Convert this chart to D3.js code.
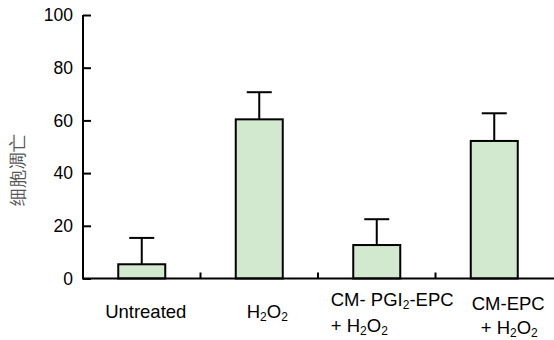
<!DOCTYPE html>
<html lang="zh">
<head>
<meta charset="utf-8">
<title>细胞凋亡</title>
<script src="https://d3js.org/d3.v7.min.js"></script>
<style>
  body { margin: 0; background: #fff; }
  text { font-family: "Liberation Sans", Arial, sans-serif; }
</style>
</head>
<body>
<div id="chart"></div>
<script>
// data
var categories = ["Untreated", "H2O2", "CM-PGI2-EPC + H2O2", "CM-EPC + H2O2"];
var values = [5.4, 60.4, 12.7, 52.2];
var errors = [10.0, 10.3, 9.8, 10.5];
var yTicks = [0, 20, 40, 60, 80, 100];

var width = 554, height = 340;
var m = {top: 15, left: 83, right: 1, bottom: 61.5};

var svg = d3.select("#chart").append("svg")
    .attr("width", width)
    .attr("height", height);

var x = d3.scaleBand()
    .domain(categories)
    .range([m.left, width - m.right])
    .paddingInner(0.6)
    .paddingOuter(0.3);

var y = d3.scaleLinear()
    .domain([0, 100])
    .range([height - m.bottom, m.top]);

var data = categories.map(function(c, i) {
  return {name: c, value: values[i], err: errors[i]};
});

function cx(name) { return x(name) + x.bandwidth() / 2; }

// error bars (drawn first so the bar covers the stem base)
var eb = svg.append("g")
    .attr("stroke", "#000")
    .attr("stroke-width", 2);

eb.selectAll("line.stem")
  .data(data)
  .enter().append("line")
    .attr("class", "stem")
    .attr("x1", function(d) { return cx(d.name); })
    .attr("x2", function(d) { return cx(d.name); })
    .attr("y1", function(d) { return y(d.value); })
    .attr("y2", function(d) { return y(d.value + d.err); });

eb.selectAll("line.cap")
  .data(data)
  .enter().append("line")
    .attr("class", "cap")
    .attr("x1", function(d) { return cx(d.name) - 12.5; })
    .attr("x2", function(d) { return cx(d.name) + 12.5; })
    .attr("y1", function(d) { return y(d.value + d.err); })
    .attr("y2", function(d) { return y(d.value + d.err); });

// bars
svg.append("g")
  .selectAll("rect")
  .data(data)
  .enter().append("rect")
    .attr("x", function(d) { return x(d.name); })
    .attr("y", function(d) { return y(d.value); })
    .attr("width", x.bandwidth())
    .attr("height", function(d) { return y(0) - y(d.value); })
    .attr("fill", "#d3e9cf")
    .attr("stroke", "#000")
    .attr("stroke-width", 2);

// y axis
var yAxis = svg.append("g")
    .attr("transform", "translate(" + m.left + ",0)")
    .call(d3.axisRight(y).tickValues(yTicks).tickSize(8).tickFormat(d3.format("d")));
yAxis.select(".domain").attr("stroke-width", 2).attr("d", "M0," + m.top + "V" + y(0));
yAxis.selectAll(".tick line").attr("stroke-width", 2);
yAxis.selectAll(".tick text")
    .attr("x", -10)
    .attr("text-anchor", "end")
    .attr("font-size", 17.5)
    .attr("font-family", "Liberation Sans, Arial, sans-serif")
    .attr("fill", "#000");

// x axis line + separator ticks between groups
var xa = svg.append("g").attr("stroke", "#000").attr("stroke-width", 2);
xa.append("line")
    .attr("x1", m.left - 1).attr("x2", width)
    .attr("y1", y(0)).attr("y2", y(0));
xa.selectAll("line.sep")
  .data(categories.slice(1))
  .enter().append("line")
    .attr("class", "sep")
    .attr("x1", function(d) { return x(d) - x.step() * x.paddingInner() / 2; })
    .attr("x2", function(d) { return x(d) - x.step() * x.paddingInner() / 2; })
    .attr("y1", y(0))
    .attr("y2", y(0) - 6);

// x labels
var lab = svg.append("g")
    .attr("font-size", 18.5)
    .attr("fill", "#000");

function sub(t, s) {
  t.append("tspan").attr("font-size", 12).attr("dy", 3).text(s);
}
function h2o2(t, prefix) {
  t.append("tspan").text(prefix + "H");
  sub(t, "2");
  t.append("tspan").attr("dy", -3).text("O");
  sub(t, "2");
}

lab.append("text").attr("x", cx(categories[0]) + 4).attr("y", 318).attr("text-anchor", "middle").text("Untreated");

var t1 = lab.append("text").attr("x", cx(categories[1]) + 8).attr("y", 318).attr("text-anchor", "middle");
h2o2(t1, "");

var t2 = lab.append("text").attr("x", cx(categories[2]) - 46).attr("y", 306);
t2.append("tspan").text("CM- PGI");
sub(t2, "2");
t2.append("tspan").attr("dy", -3).text("-EPC");
var t2b = lab.append("text").attr("x", cx(categories[2]) - 46).attr("y", 332);
h2o2(t2b, "+ ");

lab.append("text").attr("x", cx(categories[3]) + 14).attr("y", 310).attr("text-anchor", "middle").text("CM-EPC");
var t3b = lab.append("text").attr("x", cx(categories[3]) + 15).attr("y", 334).attr("text-anchor", "middle");
h2o2(t3b, "+ ");

// y title
svg.append("text")
    .attr("transform", "translate(24,170) rotate(-90)")
    .attr("text-anchor", "middle")
    .attr("font-family", "Noto Sans CJK SC, sans-serif")
    .attr("font-size", 18)
    .attr("font-weight", 300)
    .attr("fill", "#555")
    .text("细胞凋亡");
</script>
</body>
</html>
